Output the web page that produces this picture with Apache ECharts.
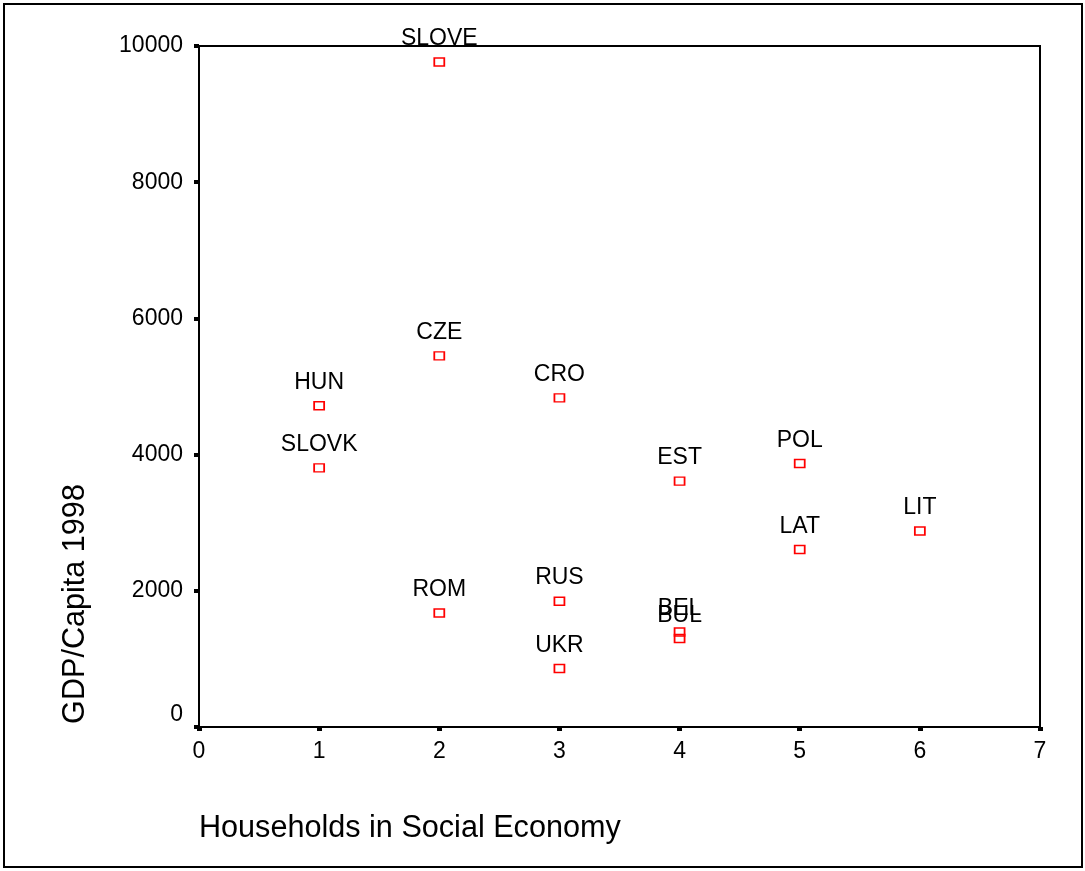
<!DOCTYPE html>
<html>
<head>
<meta charset="utf-8">
<script src="https://cdn.jsdelivr.net/npm/echarts@6/dist/echarts.min.js"></script>
<style>
  html, body { margin: 0; padding: 0; background: #fff; }
  #chart { width: 1085px; height: 871px; }
</style>
</head>
<body>
<div id="chart"></div>
<script>
// data
const countries = ['SLOVE', 'CZE', 'HUN', 'SLOVK', 'CRO', 'POL', 'EST', 'LAT', 'LIT', 'RUS', 'ROM', 'BEL', 'BUL', 'UKR'];
const households = [2, 2, 1, 1, 3, 5, 4, 5, 6, 3, 2, 4, 4, 3];
const gdpPerCapita = [9765, 5450, 4716, 3805, 4833, 3870, 3610, 2606, 2879, 1847, 1675, 1396, 1299, 858];

const xTicks = [0, 1, 2, 3, 4, 5, 6, 7];
const yTicks = [0, 2000, 4000, 6000, 8000, 10000];

const font = '"Liberation Sans", Arial, sans-serif';

const chart = echarts.init(document.getElementById('chart'), null, { renderer: 'canvas' });

const points = countries.map((name, i) => ({ name: name, value: [households[i], gdpPerCapita[i]] }));

const option = {
  backgroundColor: '#fff',
  animation: false,
  textStyle: { fontFamily: font },
  grid: {
    left: 199,
    right: 45,
    top: 46,
    bottom: 144,
    show: true,
    borderColor: '#000',
    borderWidth: 2,
    backgroundColor: 'transparent'
  },
  xAxis: {
    type: 'value',
    min: xTicks[0],
    max: xTicks[xTicks.length - 1],
    interval: 1,
    offset: 5,
    axisLine: { show: false },
    axisTick: { show: true, length: 4, lineStyle: { color: '#000', width: 5 } },
    axisLabel: { color: '#000', fontSize: 23, margin: 8, fontFamily: font },
    splitLine: { show: false }
  },
  yAxis: {
    type: 'value',
    min: yTicks[0],
    max: yTicks[yTicks.length - 1],
    interval: 2000,
    axisLine: { show: false },
    axisTick: { show: true, length: 5, lineStyle: { color: '#000', width: 4 } },
    axisLabel: {
      color: '#000',
      fontSize: 23,
      margin: 16,
      fontFamily: font,
      formatter: v => (v === 0 ? '{z|0}' : String(v)),
      rich: { z: { fontSize: 23, color: '#000', fontFamily: font, padding: [0, 0, 24, 0] } }
    },
    splitLine: { show: false }
  },
  series: [{
    type: 'scatter',
    data: points,
    symbol: 'rect',
    symbolSize: [10, 8],
    itemStyle: { color: 'rgba(0,0,0,0)', borderColor: '#ff0000', borderWidth: 1.6, opacity: 1 },
    label: {
      show: true,
      position: 'top',
      distance: 7,
      formatter: '{b}',
      color: '#000',
      fontSize: 23,
      fontFamily: font
    },
    emphasis: { disabled: true }
  }],
  graphic: [
    {
      type: 'rect',
      shape: { x: 4, y: 4, width: 1078, height: 863 },
      style: { fill: 'none', stroke: '#000', lineWidth: 2 },
      silent: true
    },
    {
      type: 'text',
      x: 199,
      y: 829,
      style: { text: 'Households in Social Economy', fill: '#000', font: '30.6px ' + font, textAlign: 'left', textVerticalAlign: 'middle' },
      silent: true
    },
    {
      type: 'text',
      x: 76,
      y: 604,
      rotation: Math.PI / 2,
      style: { text: 'GDP/Capita 1998', fill: '#000', font: '30.6px ' + font, textAlign: 'center', textVerticalAlign: 'middle' },
      silent: true
    }
  ]
};

chart.setOption(option);
</script>
</body>
</html>
